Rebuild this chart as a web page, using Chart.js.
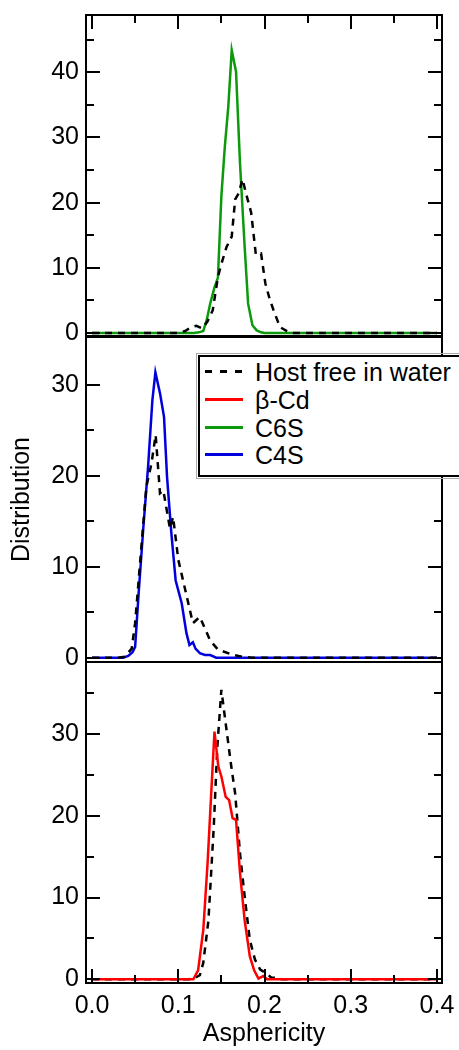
<!DOCTYPE html>
<html>
<head>
<meta charset="utf-8">
<script src="https://cdn.jsdelivr.net/npm/chart.js@4.4.0/dist/chart.umd.min.js"></script>
<style>
  body { margin: 0; background: #fff; width: 459px; height: 1050px; overflow: hidden; position: relative;
         font-family: "Liberation Sans", Arial, sans-serif; }
  canvas { position: absolute; left: 0; }
  #legend { position: absolute; left: 198px; top: 355px; width: 300px; height: 118px; background: #fff;
            border: 2px solid #000; outline: 1px solid #aaa; outline-offset: 1px; z-index: 5; }
  .row { position: absolute; left: 0; height: 28px; line-height: 28px; font-size: 25px; color: #000; white-space: nowrap; }
  .sw { position: absolute; left: 5px; top: 12px; width: 38px; height: 3px; }
  .lbl { position: absolute; left: 55px; top: 0; }
</style>
</head>
<body>
<canvas id="p1" width="459" height="400" style="top:0px"></canvas>
<canvas id="p2" width="459" height="400" style="top:300px"></canvas>
<canvas id="p3" width="459" height="410" style="top:640px"></canvas>
<div id="legend"></div>
<script>
// axis ticks
const xMajorTicks = [0, 0.1, 0.2, 0.3, 0.4];
const xMinorTicks = [0.05, 0.15, 0.25, 0.35];

// series names / colours
const seriesNames = ['Host free in water', 'β-Cd', 'C6S', 'C4S'];
const seriesColors = ['#000000', '#ff0000', '#0c9a0c', '#0000dd'];

// top panel: C6S vs host
const hostTopX = [0, 0.100, 0.108, 0.115, 0.121, 0.128, 0.134, 0.140, 0.146, 0.150, 0.156, 0.162, 0.166, 0.170, 0.1745, 0.179, 0.1845, 0.190, 0.196, 0.201, 0.206, 0.211, 0.218, 0.226, 0.233, 0.4];
const hostTopY = [0, 0, 0.3, 0.9, 1.1, 0.7, 1.8, 3.5, 8.6, 10.6, 13.2, 14.8, 20.5, 21.4, 23.6, 21.2, 18.5, 12, 12.2, 7.6, 5.2, 3.3, 0.9, 0.3, 0, 0];
const c6sX = [0, 0.118, 0.124, 0.129, 0.133, 0.137, 0.142, 0.146, 0.150, 0.154, 0.158, 0.162, 0.167, 0.1716, 0.177, 0.181, 0.186, 0.191, 0.196, 0.2, 0.4];
const c6sY = [0, 0, 0.1, 0.3, 2, 4.5, 7, 8.5, 21, 28.6, 34.7, 43.4, 40.1, 26, 13.2, 4.5, 1.2, 0.4, 0.1, 0, 0];

// middle panel: C4S vs host
const hostMidX = [0, 0.030, 0.038, 0.046, 0.050, 0.0557, 0.063, 0.069, 0.0738, 0.0788, 0.0827, 0.0904, 0.094, 0.100, 0.108, 0.117, 0.125, 0.137, 0.146, 0.164, 0.175, 0.185, 0.4];
const hostMidY = [0, 0, 0.1, 1, 3.8, 10.4, 18.8, 21.4, 24.5, 18.1, 18.4, 14.2, 15.5, 10.8, 7.5, 3.8, 4.5, 1.9, 0.9, 0.3, 0.1, 0, 0];
const c4sX = [0, 0.036, 0.042, 0.047, 0.050, 0.054, 0.0595, 0.065, 0.070, 0.0735, 0.079, 0.0835, 0.087, 0.092, 0.097, 0.104, 0.1095, 0.113, 0.117, 0.120, 0.125, 0.131, 0.137, 0.144, 0.4];
const c4sY = [0, 0, 0.2, 0.6, 1.2, 7, 14.3, 21, 28.3, 31.4, 29, 26.5, 19.9, 13.7, 8.5, 6, 2.7, 1.4, 1.7, 1.0, 0.5, 0.3, 0.3, 0, 0];

// bottom panel: beta-Cd vs host
const hostBotX = [0, 0.112, 0.120, 0.125, 0.129, 0.135, 0.141, 0.1453, 0.150, 0.155, 0.161, 0.166, 0.1716, 0.177, 0.183, 0.189, 0.195, 0.2025, 0.208, 0.214, 0.22, 0.4];
const hostBotY = [0, 0, 0.2, 0.5, 2, 7.2, 18.3, 28.4, 35.4, 31.3, 26.4, 22.7, 15.4, 10.1, 4.8, 2.4, 1.2, 0.7, 0.2, 0.2, 0, 0];
const bcdX = [0, 0.1175, 0.123, 0.129, 0.134, 0.138, 0.142, 0.1465, 0.150, 0.155, 0.159, 0.163, 0.167, 0.1716, 0.177, 0.183, 0.188, 0.193, 0.1985, 0.203, 0.4];
const bcdY = [0, 0, 1.1, 6, 14.2, 22.3, 30.3, 26, 24.8, 22.3, 21.9, 19.7, 19.5, 13, 7.2, 2.8, 1.1, 0.1, 0.4, 0, 0];

const pts = (xs, ys) => xs.map((x, i) => ({x: x, y: ys[i]}));
const font = {family: '"Liberation Sans", Arial, sans-serif', size: 25};

const frameTicks = {
    id: 'frameTicks',
    afterDraw(chart, args, opts) {
        const {ctx, chartArea: a, scales: {x, y}} = chart;
        ctx.save();
        ctx.strokeStyle = '#000';
        ctx.lineWidth = 2;
        ctx.beginPath();
        const yTick = (v, len) => {
            const p = Math.round(y.getPixelForValue(v));
            ctx.moveTo(a.left, p); ctx.lineTo(a.left + len, p);
            ctx.moveTo(a.right, p); ctx.lineTo(a.right - len, p);
        };
        y.ticks.forEach(t => yTick(t.value, 14));
        opts.yMinor.forEach(v => yTick(v, 8));
        const xTick = (v, len) => {
            const p = Math.round(x.getPixelForValue(v));
            if (opts.xSide === 'top') { ctx.moveTo(p, a.top); ctx.lineTo(p, a.top + len); }
            if (opts.xSide === 'bottom') { ctx.moveTo(p, a.bottom); ctx.lineTo(p, a.bottom - len); }
        };
        xMajorTicks.forEach(v => xTick(v, 14));
        xMinorTicks.forEach(v => xTick(v, 8));
        ctx.stroke();
        ctx.strokeRect(a.left, a.top, a.right - a.left, a.bottom - a.top);
        ctx.restore();
    }
};

function panel(id, sets, yMin, yMax, yMinor, padTop, padBottom, opts) {
    return new Chart(id, {
        type: 'scatter',
        data: {
            datasets: sets.map(s => ({
                label: s.label,
                data: s.data,
                showLine: true,
                borderColor: s.color,
                borderWidth: 2.5,
                borderDash: s.dash || [],
                pointRadius: 0,
                tension: 0,
                fill: false
            }))
        },
        options: {
            responsive: false,
            animation: false,
            layout: {padding: {left: 0, right: 17, top: padTop, bottom: padBottom}},
            plugins: {
                legend: {display: false},
                tooltip: {enabled: false},
                frameTicks: {yMinor: yMinor, xSide: opts.xSide}
            },
            scales: {
                x: {
                    type: 'linear',
                    min: -0.00696,
                    max: 0.4058,
                    display: opts.showX,
                    grid: {display: false, drawTicks: false},
                    border: {display: false},
                    ticks: {
                        stepSize: 0.1,
                        includeBounds: false,
                        maxRotation: 0,
                        padding: 8,
                        color: '#000',
                        font: font,
                        callback: v => v.toFixed(1)
                    },
                    title: {
                        display: opts.showX,
                        text: 'Asphericity',
                        color: '#000',
                        font: font,
                        padding: {top: 0, bottom: 1}
                    },
                    afterFit: s => {
                        s.height = opts.showX ? 67 : 0;
                        s.paddingLeft = 0;
                        s.paddingRight = 0;
                    }
                },
                y: {
                    min: yMin,
                    max: yMax,
                    grid: {display: false, drawTicks: false},
                    border: {display: false},
                    ticks: {stepSize: 10, includeBounds: false, padding: 7, color: '#000', font: font},
                    title: {
                        display: !!opts.yTitle,
                        text: opts.yTitle || '',
                        color: '#000',
                        font: font,
                        padding: {top: 7, bottom: 0}
                    },
                    afterFit: s => { s.width = 86; s.paddingTop = 0; s.paddingBottom = 0; }
                }
            }
        },
        plugins: [frameTicks]
    });
}

const dash = [7, 6];

panel('p1', [
    {label: seriesNames[0], data: pts(hostTopX, hostTopY), color: seriesColors[0], dash: dash},
    {label: seriesNames[2], data: pts(c6sX, c6sY), color: seriesColors[2]}
], -0.46, 48.79, [5, 15, 25, 35, 45], 15, 64, {showX: false, xSide: 'top'});

panel('p2', [
    {label: seriesNames[0], data: pts(hostMidX, hostMidY), color: seriesColors[0], dash: dash},
    {label: seriesNames[3], data: pts(c4sX, c4sY), color: seriesColors[3]}
], -0.47, 35.28, [5, 15, 25], 37, 38, {showX: false, xSide: null, yTitle: 'Distribution'});

panel('p3', [
    {label: seriesNames[1], data: pts(bcdX, bcdY), color: seriesColors[1]},
    {label: seriesNames[0], data: pts(hostBotX, hostBotY), color: seriesColors[0], dash: dash}
], -0.45, 38.8, [5, 15, 25, 35], 22, 0, {showX: true, xSide: 'bottom'});

// legend box drawn in html
const legend = document.getElementById('legend');
seriesNames.forEach((name, i) => {
    const row = document.createElement('div');
    row.className = 'row';
    row.style.top = (1 + i * 27.8) + 'px';
    const sw = document.createElement('span');
    sw.className = 'sw';
    sw.style.background = i === 0
        ? 'repeating-linear-gradient(90deg, #000 0 7px, transparent 7px 15px)'
        : seriesColors[i];
    const lbl = document.createElement('span');
    lbl.className = 'lbl';
    lbl.textContent = name;
    row.appendChild(sw);
    row.appendChild(lbl);
    legend.appendChild(row);
});
</script>
</body>
</html>
